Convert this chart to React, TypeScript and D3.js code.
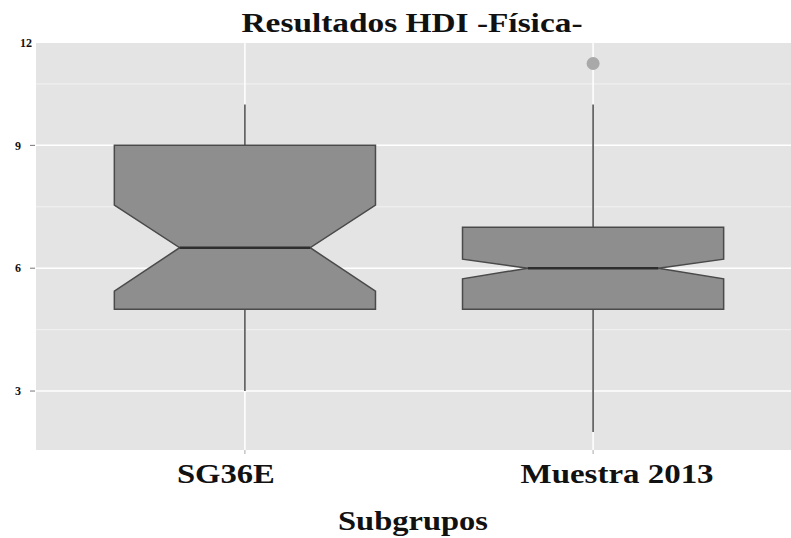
import React from "react";
import * as d3 from "d3";

const categories = ["SG36E", "Muestra 2013"];
const whiskerLow = [3, 2];
const q1 = [5, 5];
const median = [6.5, 6];
const q3 = [9, 7];
const whiskerHigh = [10, 10];
const notchLow = [5.44, 5.74];
const notchHigh = [7.54, 6.22];
const outliers = [[], [11]];
const yTicks = [3, 6, 9, 12];
const yMinor = [4.5, 7.5, 10.5];

const W = 791;
const H = 538;
const panel = { left: 36, right: 802, top: 43, bottom: 450 };
const serif = "'Liberation Serif', 'Times New Roman', serif";

const App = () => {
  const x = d3.scalePoint<string>().domain(categories).range([panel.left, panel.right]).padding(0.6);
  const y = d3.scaleLinear().domain([1.56, 11.5]).range([panel.bottom, panel.top]);
  const hw = x.step() * 0.375;
  const nw = hw * 0.5;
  const line = d3.line<[number, number]>();

  // x label nudges seen in the reference
  const labelShift = [-19, 24];
  const labelWidth = [98, 193];

  return (
    <svg width={W} height={H} style={{ position: "absolute", left: 0, top: 0, background: "#fff" }}>
      <rect x={panel.left} y={panel.top} width={panel.right - panel.left} height={panel.bottom - panel.top} fill="#e4e4e4" />
      {yMinor.map((t) => (
        <line key={"m" + t} x1={panel.left} x2={panel.right} y1={y(t)} y2={y(t)} stroke="#f2f2f2" strokeWidth={1} />
      ))}
      {yTicks.filter((t) => y(t) >= panel.top).map((t) => (
        <line key={"g" + t} x1={panel.left} x2={panel.right} y1={y(t)} y2={y(t)} stroke="#fff" strokeWidth={1.5} />
      ))}
      {categories.map((c) => (
        <line key={"v" + c} x1={x(c)} x2={x(c)} y1={panel.top} y2={panel.bottom} stroke="#fff" strokeWidth={1.5} />
      ))}

      {categories.map((c, i) => {
        const cx = x(c) as number;
        const pts: [number, number][] = [
          [cx - hw, y(q3[i])],
          [cx + hw, y(q3[i])],
          [cx + hw, y(notchHigh[i])],
          [cx + nw, y(median[i])],
          [cx + hw, y(notchLow[i])],
          [cx + hw, y(q1[i])],
          [cx - hw, y(q1[i])],
          [cx - hw, y(notchLow[i])],
          [cx - nw, y(median[i])],
          [cx - hw, y(notchHigh[i])],
        ];
        return (
          <g key={c}>
            <line x1={cx} x2={cx} y1={y(whiskerHigh[i])} y2={y(q3[i])} stroke="#4a4a4a" strokeWidth={1.5} />
            <line x1={cx} x2={cx} y1={y(q1[i])} y2={y(whiskerLow[i])} stroke="#4a4a4a" strokeWidth={1.5} />
            <path d={line(pts) + "Z"} fill="#8e8e8e" stroke="#4a4a4a" strokeWidth={1.5} />
            <line x1={cx - nw} x2={cx + nw} y1={y(median[i])} y2={y(median[i])} stroke="#2e2e2e" strokeWidth={2.5} />
            {outliers[i].map((o, k) => (
              <circle key={k} cx={cx} cy={y(o)} r={6.5} fill="#a9a9a9" />
            ))}
          </g>
        );
      })}

      {yTicks.map((t) => {
        const inside = y(t) >= panel.top;
        const ty = Math.max(y(t), panel.top);
        return (
          <g key={"t" + t}>
            {inside && <line x1={30} x2={35} y1={ty} y2={ty} stroke="#777" />}
            <text x={inside ? 21 : 32} y={ty} dy="0.35em" textAnchor="end" fontFamily={serif} fontWeight="bold" fontSize={12} fill="#111">
              {t}
            </text>
          </g>
        );
      })}
      {categories.map((c) => (
        <line key={"xt" + c} x1={x(c)} x2={x(c)} y1={panel.bottom} y2={panel.bottom + 4} stroke="#aaa" />
      ))}
      {categories.map((c, i) => (
        <text key={"xl" + c} x={(x(c) as number) + labelShift[i]} y={483} textAnchor="middle" fontFamily={serif} fontWeight="bold" fontSize={27}
          textLength={labelWidth[i]} lengthAdjust="spacingAndGlyphs" fill="#111">
          {c}
        </text>
      ))}

      <text x={412} y={32} textAnchor="middle" fontFamily={serif} fontWeight="bold" fontSize={28} textLength={341} lengthAdjust="spacingAndGlyphs" fill="#111">
        Resultados HDI -Física-
      </text>
      <text x={413} y={530} textAnchor="middle" fontFamily={serif} fontWeight="bold" fontSize={27} textLength={150} lengthAdjust="spacingAndGlyphs" fill="#111">
        Subgrupos
      </text>
    </svg>
  );
};

export default App;
